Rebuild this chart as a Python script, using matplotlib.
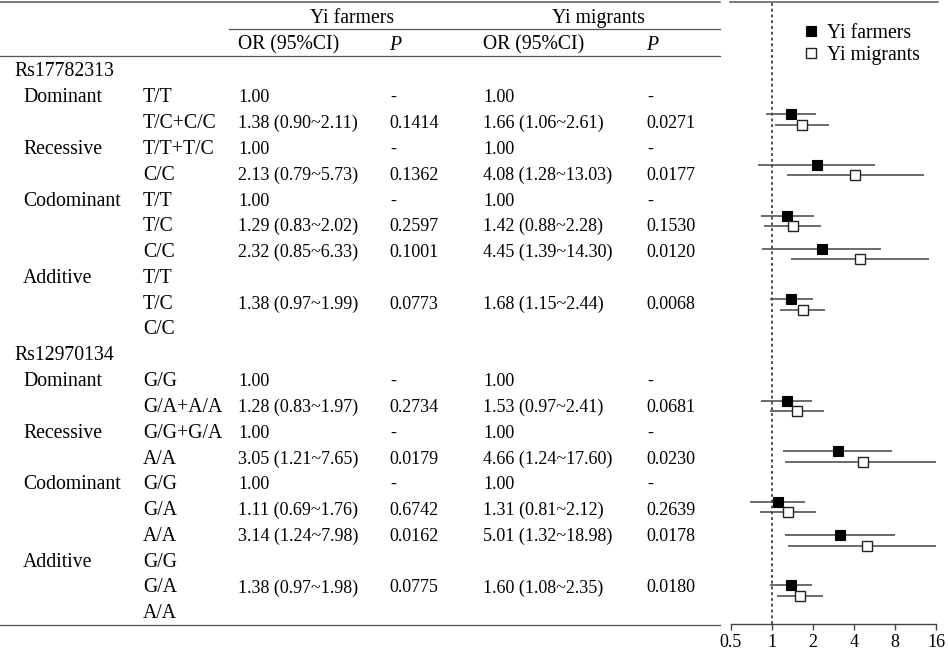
import matplotlib
matplotlib.use('Agg')
import matplotlib.pyplot as plt

# ---------------- data ----------------
snp_names = ['Rs17782313', 'Rs12970134']
model_names = ['Dominant', 'Recessive', 'Codominant', 'Additive']
genotypes_snp1 = [['T/T', 'T/C+C/C'], ['T/T+T/C', 'C/C'], ['T/T', 'T/C', 'C/C'], ['T/T', 'T/C', 'C/C']]
genotypes_snp2 = [['G/G', 'G/A+A/A'], ['G/G+G/A', 'A/A'], ['G/G', 'G/A', 'A/A'], ['G/G', 'G/A', 'A/A']]

# OR rows (non-reference) in table order
farm_or = [1.38, 2.13, 1.29, 2.32, 1.38, 1.28, 3.05, 1.11, 3.14, 1.38]
farm_lo = [0.90, 0.79, 0.83, 0.85, 0.97, 0.83, 1.21, 0.69, 1.24, 0.97]
farm_hi = [2.11, 5.73, 2.02, 6.33, 1.99, 1.97, 7.65, 1.76, 7.98, 1.98]
farm_p = ['0.1414', '0.1362', '0.2597', '0.1001', '0.0773', '0.2734', '0.0179', '0.6742', '0.0162', '0.0775']
mig_or = [1.66, 4.08, 1.42, 4.45, 1.68, 1.53, 4.66, 1.31, 5.01, 1.60]
mig_lo = [1.06, 1.28, 0.88, 1.39, 1.15, 0.97, 1.24, 0.81, 1.32, 1.08]
mig_hi = [2.61, 13.03, 2.28, 14.30, 2.44, 2.41, 17.60, 2.12, 18.98, 2.35]
mig_p = ['0.0271', '0.0177', '0.1530', '0.0120', '0.0068', '0.0681', '0.0230', '0.2639', '0.0178', '0.0180']

x_ticks = [0.5, 1, 2, 4, 8, 16]
x_tick_labels = ['0.5', '1', '2', '4', '8', '16']
legend_labels = ['Yi farmers', 'Yi migrants']

# ---------------- layout ----------------
W, H = 948, 655
fig = plt.figure(figsize=(W / 100, H / 100), dpi=100)
plt.rcParams['font.family'] = ['Liberation Serif', 'DejaVu Serif']

tab = fig.add_axes([0, 0, 1, 1])
tab.set_xlim(0, W)
tab.set_ylim(H, 0)
tab.axis('off')

FS_WORD = 14.2
FS_NUM = 13.0
TXT = '#000000'
LINE = '#555555'

# column x positions (px)
X_SNP, X_MODEL, X_GENO = 14, 23, 143
X_FOR, X_FP, X_MOR, X_MP = 238, 389, 483, 646
ROW0, DROW = 76.5, 25.8


def base(r):
    return ROW0 + DROW * r


def put(x, y, s, fs, **kw):
    tab.text(x, y, s, ha=kw.pop('ha', 'left'), va='baseline', fontsize=fs, color=TXT, **kw)


# headers
put(352, 22.7, 'Yi farmers', FS_WORD, ha='center')
put(598, 22.7, 'Yi migrants', FS_WORD, ha='center')
for xo, xp in [(X_FOR, X_FP), (X_MOR, X_MP)]:
    put(xo, 49.5, 'OR (95%CI)', FS_WORD)
    put(xp, 49.5, 'P', FS_WORD, style='italic')

# rules
tab.plot([0, 720], [2, 2], color=LINE, lw=1.1)
tab.plot([730, 938], [2, 2], color=LINE, lw=1.1)
tab.plot([229, 720], [28.5, 28.5], color=LINE, lw=0.9)
tab.plot([0, 720], [56, 56], color=LINE, lw=0.9)
tab.plot([0, 720], [624.5, 624.5], color=LINE, lw=0.9)


def put_or_row(y, k):
    put(X_FOR, y, f'{farm_or[k]:.2f} ({farm_lo[k]:.2f}~{farm_hi[k]:.2f})', FS_NUM)
    put(X_FP, y, farm_p[k], FS_NUM)
    put(X_MOR, y, f'{mig_or[k]:.2f} ({mig_lo[k]:.2f}~{mig_hi[k]:.2f})', FS_NUM)
    put(X_MP, y, mig_p[k], FS_NUM)


# table body
r = 0
k = 0
for snp, genos in zip(snp_names, [genotypes_snp1, genotypes_snp2]):
    put(X_SNP, base(r), snp, FS_WORD)
    r += 1
    for model, glist in zip(model_names, genos):
        put(X_MODEL, base(r), model, FS_WORD)
        for gi, g in enumerate(glist):
            put(X_GENO, base(r), g, FS_WORD)
            if model == 'Additive':
                if gi == 1:
                    put_or_row(base(r), k)
                    k += 1
            elif gi == 0:
                for xo, xp in [(X_FOR, X_FP), (X_MOR, X_MP)]:
                    put(xo, base(r), '1.00', FS_NUM)
                    put(xp + 1, base(r), '-', FS_NUM)
            else:
                put_or_row(base(r), k)
                k += 1
            r += 1

# ---------------- forest plot ----------------
AX_L, AX_R, AX_T, AX_B = 731, 936, 3, 623.5
fax = fig.add_axes([AX_L / W, (H - AX_B) / H, (AX_R - AX_L) / W, (AX_B - AX_T) / H])
fax.patch.set_alpha(0)
fax.set_xscale('log', base=2)
fax.set_xlim(0.5, 16)
fax.set_ylim(AX_B, AX_T)   # y in pixel rows, top to bottom

# vertical position (px) of each farmer/migrant pair (layout)
pair_y = [114, 164.7, 215.7, 248.7, 299, 400.7, 451, 501.7, 535, 585.3]
GAP = 10.5
farm_y = pair_y
mig_y = [y + GAP for y in pair_y]

ERR = '#444444'
fax.hlines(farm_y, farm_lo, farm_hi, color=ERR, lw=1.1, zorder=2)
fax.hlines(mig_y, mig_lo, mig_hi, color=ERR, lw=1.1, zorder=2)
h1, = fax.plot(farm_or, farm_y, ls='none', marker='s', ms=7.2, mfc='black', mec='black', mew=0.8, zorder=3,
               label=legend_labels[0])
h2, = fax.plot(mig_or, mig_y, ls='none', marker='s', ms=7.2, mfc='white', mec='#222222', mew=1.0, zorder=3,
               label=legend_labels[1])
fax.axvline(1, color='#444444', lw=1.3, ls=(0, (1.6, 1.6)), zorder=1)

for s in ['top', 'left', 'right']:
    fax.spines[s].set_visible(False)
fax.spines['bottom'].set_color('#444444')
fax.spines['bottom'].set_linewidth(1.0)
fax.set_yticks([])
fax.set_xticks(x_ticks)
fax.set_xticklabels(x_tick_labels)
fax.minorticks_off()
fax.tick_params(axis='x', direction='out', length=4.5, width=1.0, color='#444444',
                labelsize=FS_NUM, labelcolor=TXT, pad=3)

fax.legend(handles=[h1, h2], loc='upper left',
           bbox_to_anchor=((803.5 - AX_L) / (AX_R - AX_L), 1.0 - (24 - AX_T) / (AX_B - AX_T)),
           frameon=False, fontsize=FS_WORD, handlelength=0.75, handletextpad=0.42, labelspacing=0.15,
           borderpad=0, borderaxespad=0, markerscale=1.05)

fig.savefig('out.png', dpi=100)
